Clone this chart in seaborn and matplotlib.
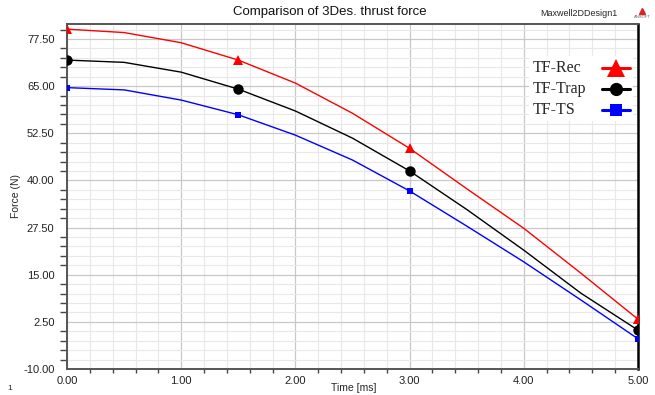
"""Comparison of 3Des. thrust force, Maxwell 2D style chart."""

import matplotlib
matplotlib.use("Agg")
import matplotlib.pyplot as plt
from matplotlib.lines import Line2D
from matplotlib.patches import Rectangle
from matplotlib.ticker import MultipleLocator, FormatStrFormatter
import pandas as pd
import seaborn as sns

# Data
time_ms = [0.0, 0.5, 1.0, 1.5, 2.0, 2.5, 3.0, 3.5, 4.0, 4.5, 5.0]
tf_rec = [80.1, 79.2, 76.5, 71.9, 65.8, 57.8, 48.5, 37.8, 27.3, 15.4, 3.2]
tf_trap = [71.9, 71.3, 68.7, 64.2, 58.4, 51.2, 42.5, 32.3, 21.5, 10.1, 0.3]
tf_ts = [64.6, 64.0, 61.3, 57.4, 52.0, 45.4, 37.2, 27.9, 18.4, 8.3, -2.0]
series_names = ["TF-Rec", "TF-Trap", "TF-TS"]
marker_idx = [0, 3, 6, 10]

df = pd.DataFrame({"Time": time_ms, "TF-Rec": tf_rec, "TF-Trap": tf_trap, "TF-TS": tf_ts})
long_df = df.melt(id_vars="Time", var_name="Series", value_name="Force")

sns.set_style("whitegrid")
plt.rcParams["font.family"] = ["Liberation Sans", "DejaVu Sans"]

W, H = 655, 395
fig = plt.figure(figsize=(W / 100, H / 100), dpi=100)
ax = fig.add_axes([67 / W, (H - 369) / H, (638 - 67) / W, (369 - 23.5) / H])

styles = {
    "TF-Rec": dict(color="#ff0000", marker="^", ms=7, lms=12.5),
    "TF-Trap": dict(color="#000000", marker="o", ms=7.5, lms=9.5),
    "TF-TS": dict(color="#0000ff", marker="s", ms=5, lms=8),
}

for name in series_names:
    st = styles[name]
    sub = long_df[long_df["Series"] == name]
    sns.lineplot(data=sub, x="Time", y="Force", ax=ax, color=st["color"],
                 marker=st["marker"], markersize=st["ms"], markevery=marker_idx,
                 markeredgewidth=0, linewidth=1.0, legend=False, zorder=3)

ax.set_xlim(0, 5)
ax.set_ylim(-10, 81.6)
ax.xaxis.set_major_locator(MultipleLocator(1.0))
ax.xaxis.set_minor_locator(MultipleLocator(0.2))
ax.yaxis.set_minor_locator(MultipleLocator(2.5))
ax.xaxis.set_major_formatter(FormatStrFormatter("%.2f"))
ax.yaxis.set_major_formatter(FormatStrFormatter("%.2f"))
ax.set_yticks([-10 + 12.5 * i for i in range(8)])

ax.grid(which="major", color="#c8c8c8", linewidth=0.9)
ax.grid(which="minor", color="#e8e8e8", linewidth=0.8)
ax.set_axisbelow(True)

ax.tick_params(axis="both", which="major", labelsize=8, labelcolor="#222222",
               color="#444444", length=7, width=1.0, direction="out", pad=2)
ax.tick_params(axis="y", which="minor", color="#444444", length=5, width=1.0, direction="out", left=True)
ax.tick_params(axis="x", which="minor", color="#444444", length=3, width=1.0, direction="out", bottom=True)
ax.tick_params(axis="x", which="major", length=4, pad=1)

for side in ["left", "bottom", "top"]:
    ax.spines[side].set_color("#555555")
    ax.spines[side].set_linewidth(1.4)
ax.spines["right"].set_color("#000000")
ax.spines["right"].set_linewidth(1.8)

ax.set_xlabel("Time [ms]", fontsize=7.5)
ax.set_ylabel("Force (N)", fontsize=7.5)
ax.xaxis.set_label_coords(0.503, -0.041)
ax.yaxis.set_label_coords(-0.081, 0.5)

fig.text(330 / W, 1 - 12 / H, "Comparison of 3Des. thrust force", fontsize=9.5,
         ha="center", va="center", color="#111111")
fig.text(579 / W, 1 - 14 / H, "Maxwell2DDesign1", fontsize=6.5, ha="center", va="center")
fig.text(642 / W, 1 - 17 / H, "ANSOFT", fontsize=3, ha="center", va="center", color="#666666")
fig.lines.append(Line2D([642 / W], [1 - 11 / H], transform=fig.transFigure, marker="^",
                        color="#dd2222", ms=4, lw=0))
fig.text(10 / W, 1 - 389 / H, "1", fontsize=6, ha="center", va="center")

# Legend: labels left-aligned, sample lines on the right, white box behind
fig.patches.append(Rectangle((529 / W, 1 - 121 / H), 104 / W, 65 / H, transform=fig.transFigure,
                             facecolor="white", edgecolor="none", zorder=4))
row_y = [68, 89, 110]
for name, yy in zip(series_names, row_y):
    st = styles[name]
    fig.text(533 / W, 1 - yy / H, name, family="Liberation Serif", fontsize=11.5,
             ha="left", va="center", zorder=5)
    fig.lines.append(Line2D([602 / W, 630 / W], [1 - yy / H, 1 - yy / H],
                            transform=fig.transFigure, color=st["color"], lw=2.2, zorder=5))
    fig.lines.append(Line2D([616 / W], [1 - yy / H], transform=fig.transFigure,
                            color=st["color"], marker=st["marker"], ms=st["lms"],
                            markeredgewidth=0, lw=0, zorder=6))

fig.savefig("out.png", dpi=100)
